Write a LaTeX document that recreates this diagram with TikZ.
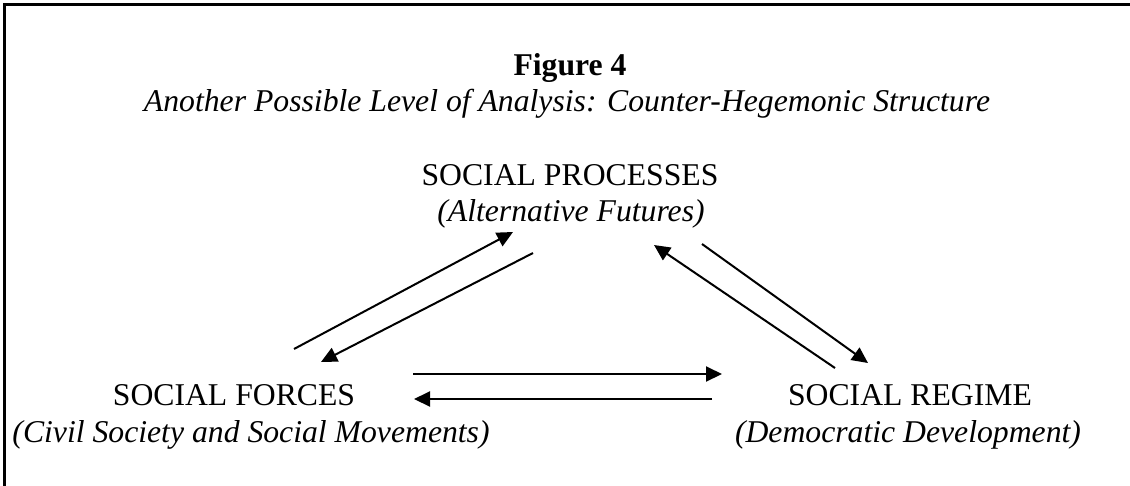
\documentclass[tikz,border=0pt]{standalone}
\usepackage{fontspec}
\setmainfont{Liberation Serif}
\usetikzlibrary{arrows.meta}
\begin{document}
\begin{tikzpicture}[x=1pt,y=-1pt,
  lbl/.style={inner sep=0pt,anchor=base,font=\fontsize{31.7}{36.5}\selectfont},
  conn/.style={line width=2pt,-{Triangle[length=16pt,width=15pt]}},
  frameline/.style={line width=2.5pt}]
\useasboundingbox (0,0) rectangle (1130,485);
\draw[frameline] (4.3,486) -- (4.3,4.3) -- (1131,4.3);
% texts
\node[lbl] (fig) at (570,75) {\bfseries Figure 4};
\node[lbl] (sub) at (567,111.5) {\itshape Another Possible Level of Analysis: Counter-Hegemonic Structure};
\node[lbl] (proc) at (570,185) {SOCIAL PROCESSES};
\node[lbl] (procsub) at (571,221.5) {\itshape (Alternative Futures)};
\node[lbl] (forces) at (234,405) {SOCIAL FORCES};
\node[lbl] (forcessub) at (251,442) {\itshape (Civil Society and Social Movements)};
\node[lbl] (regime) at (910,405) {SOCIAL REGIME};
\node[lbl] (regimesub) at (908,442) {\itshape (Democratic Development)};
% connector end points
\coordinate (fpA) at (294,349);
\coordinate (fpB) at (513,232);
\coordinate (pfA) at (533,253);
\coordinate (pfB) at (321,362);
\coordinate (rpA) at (835,368);
\coordinate (rpB) at (654,245);
\coordinate (prA) at (702,244);
\coordinate (prB) at (868,363);
\coordinate (frA) at (413,374);
\coordinate (frB) at (722,374);
\coordinate (rfA) at (712,399);
\coordinate (rfB) at (414,399);
\draw[conn] (fpA) -- (fpB);
\draw[conn] (pfA) -- (pfB);
\draw[conn] (rpA) -- (rpB);
\draw[conn] (prA) -- (prB);
\draw[conn] (frA) -- (frB);
\draw[conn] (rfA) -- (rfB);
\end{tikzpicture}
\end{document}
